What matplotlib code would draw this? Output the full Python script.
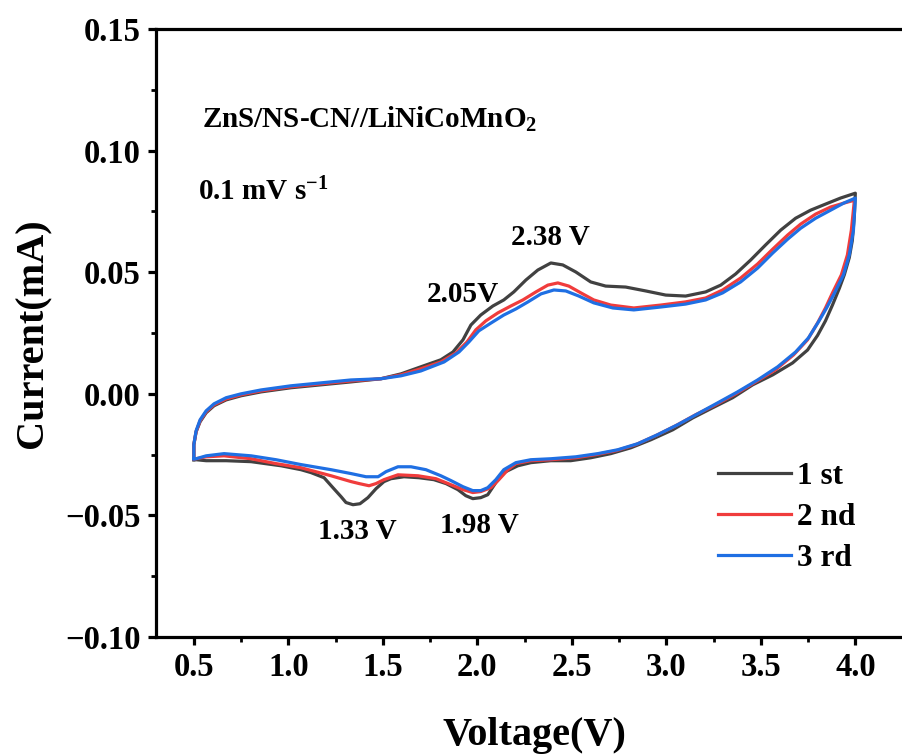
import matplotlib
matplotlib.use('Agg')
import matplotlib.pyplot as plt
from matplotlib.ticker import MultipleLocator, FuncFormatter

plt.rcParams['font.family'] = ['Liberation Serif', 'DejaVu Serif']
plt.rcParams['font.weight'] = 'bold'
plt.rcParams['mathtext.fontset'] = 'custom'
plt.rcParams['mathtext.rm'] = 'Liberation Serif:bold'
plt.rcParams['mathtext.bf'] = 'Liberation Serif:bold'
plt.rcParams['mathtext.it'] = 'Liberation Serif:bold:italic'

# 1st cycle (anodic 0.5 -> 4.0, then cathodic 4.0 -> 0.5)
v1 = [0.500, 0.500, 0.512, 0.533, 0.565, 0.607, 0.671, 0.750, 0.856, 1.014, 1.173, 1.331, 1.490,
      1.596, 1.701, 1.807, 1.871, 1.924, 1.966, 2.018, 2.082, 2.140, 2.193, 2.257, 2.320, 2.389,
      2.452, 2.521, 2.600, 2.679, 2.785, 2.891, 2.997, 3.102, 3.208, 3.288, 3.367, 3.446, 3.525,
      3.605, 3.684, 3.763, 3.842, 3.922, 4.000,
      3.995, 3.984, 3.968, 3.942, 3.916, 3.879, 3.842, 3.800, 3.747, 3.668, 3.563, 3.457, 3.351,
      3.246, 3.140, 3.034, 2.918, 2.812, 2.706, 2.600, 2.494, 2.389, 2.283, 2.214, 2.140, 2.098,
      2.055, 2.018, 1.976, 1.939, 1.897, 1.834, 1.770, 1.691, 1.612, 1.543, 1.506, 1.464, 1.421,
      1.379, 1.342, 1.305, 1.279, 1.236, 1.189, 1.120, 1.067, 0.962, 0.803, 0.671, 0.565, 0.512,
      0.500]
i1 = [-0.0271, -0.0209, -0.0156, -0.0115, -0.0078, -0.0049, -0.0025, -0.0008, 0.0008, 0.0025,
      0.0037, 0.0049, 0.0062, 0.0082, 0.0111, 0.0140, 0.0172, 0.0222, 0.0283, 0.0324, 0.0361,
      0.0386, 0.0419, 0.0468, 0.0509, 0.0538, 0.0530, 0.0501, 0.0460, 0.0443, 0.0439, 0.0423,
      0.0406, 0.0402, 0.0419, 0.0447, 0.0493, 0.0550, 0.0612, 0.0673, 0.0722, 0.0755, 0.0780,
      0.0805, 0.0825,
      0.0735, 0.0630, 0.0560, 0.0490, 0.0435, 0.0365, 0.0300, 0.0240, 0.0180, 0.0127, 0.0078,
      0.0037, -0.0016, -0.0057, -0.0099, -0.0148, -0.0189, -0.0222, -0.0246, -0.0263, -0.0275,
      -0.0275, -0.0283, -0.0296, -0.0324, -0.0365, -0.0415, -0.0427, -0.0431, -0.0419, -0.0394,
      -0.0369, -0.0353, -0.0345, -0.0341, -0.0349, -0.0361, -0.0390, -0.0427, -0.0452, -0.0456,
      -0.0447, -0.0423, -0.0386, -0.0345, -0.0324, -0.0312, -0.0296, -0.0279, -0.0275, -0.0275,
      -0.0271, -0.0271]

# 2nd cycle
v2 = [0.500, 0.500, 0.512, 0.533, 0.565, 0.607, 0.671, 0.750, 0.856, 1.014, 1.173, 1.331, 1.490,
      1.596, 1.701, 1.807, 1.887, 1.945, 1.992, 2.045, 2.109, 2.177, 2.241, 2.310, 2.373, 2.426,
      2.484, 2.548, 2.616, 2.706, 2.828, 2.971, 3.102, 3.208, 3.298, 3.393, 3.483, 3.563, 3.642,
      3.711, 3.790, 3.869, 3.938, 3.995,
      3.979, 3.958, 3.926, 3.879, 3.842, 3.800, 3.747, 3.673, 3.578, 3.473, 3.367, 3.261, 3.155,
      3.050, 2.944, 2.838, 2.733, 2.627, 2.521, 2.389, 2.283, 2.204, 2.162, 2.114, 2.072, 2.018,
      1.976, 1.924, 1.861, 1.781, 1.686, 1.580, 1.506, 1.464, 1.427, 1.374, 1.332, 1.226, 1.067,
      0.935, 0.803, 0.660, 0.565, 0.512, 0.500]
i2 = [-0.0267, -0.0209, -0.0156, -0.0111, -0.0074, -0.0045, -0.0021, -0.0004, 0.0012, 0.0029,
      0.0041, 0.0053, 0.0062, 0.0078, 0.0103, 0.0131, 0.0168, 0.0213, 0.0263, 0.0300, 0.0333,
      0.0361, 0.0386, 0.0419, 0.0447, 0.0456, 0.0443, 0.0415, 0.0386, 0.0365, 0.0353, 0.0365,
      0.0378, 0.0394, 0.0427, 0.0476, 0.0534, 0.0595, 0.0653, 0.0698, 0.0739, 0.0768, 0.0784,
      0.0796,
      0.0673, 0.0571, 0.0489, 0.0415, 0.0353, 0.0291, 0.0222, 0.0160, 0.0099, 0.0049, 0.0000,
      -0.0045, -0.0086, -0.0131, -0.0172, -0.0209, -0.0234, -0.0250, -0.0263, -0.0271, -0.0275,
      -0.0287, -0.0312, -0.0353, -0.0386, -0.0402, -0.0406, -0.0394, -0.0374, -0.0349, -0.0337,
      -0.0333, -0.0353, -0.0369, -0.0378, -0.0369, -0.0361, -0.0337, -0.0304, -0.0287, -0.0267,
      -0.0255, -0.0259, -0.0267, -0.0267]

# 3rd cycle
v3 = [0.500, 0.500, 0.512, 0.533, 0.565, 0.607, 0.671, 0.750, 0.856, 1.014, 1.173, 1.331, 1.490,
      1.596, 1.701, 1.824, 1.903, 1.955, 2.008, 2.072, 2.140, 2.204, 2.268, 2.337, 2.405, 2.468,
      2.537, 2.616, 2.717, 2.828, 2.971, 3.102, 3.208, 3.298, 3.393, 3.483, 3.563, 3.642, 3.711,
      3.790, 3.869, 3.938, 4.000,
      3.990, 3.968, 3.937, 3.890, 3.848, 3.805, 3.752, 3.684, 3.589, 3.483, 3.377, 3.272, 3.166,
      3.060, 2.954, 2.849, 2.743, 2.637, 2.521, 2.389, 2.283, 2.204, 2.140, 2.098, 2.055, 2.018,
      1.976, 1.924, 1.861, 1.807, 1.728, 1.649, 1.580, 1.517, 1.475, 1.411, 1.332, 1.226, 1.067,
      0.935, 0.803, 0.660, 0.565, 0.512, 0.500]
i3 = [-0.0267, -0.0209, -0.0152, -0.0107, -0.0070, -0.0041, -0.0016, 0.0000, 0.0016, 0.0033,
      0.0045, 0.0057, 0.0062, 0.0074, 0.0094, 0.0131, 0.0172, 0.0213, 0.0259, 0.0291, 0.0324,
      0.0349, 0.0378, 0.0411, 0.0427, 0.0423, 0.0402, 0.0374, 0.0353, 0.0345, 0.0357, 0.0369,
      0.0386, 0.0415, 0.0460, 0.0517, 0.0579, 0.0636, 0.0681, 0.0722, 0.0755, 0.0784, 0.0805,
      0.0673, 0.0571, 0.0489, 0.0415, 0.0353, 0.0296, 0.0230, 0.0172, 0.0111, 0.0057, 0.0008,
      -0.0037, -0.0082, -0.0127, -0.0168, -0.0205, -0.0230, -0.0246, -0.0259, -0.0267, -0.0271,
      -0.0283, -0.0312, -0.0353, -0.0386, -0.0398, -0.0398, -0.0382, -0.0357, -0.0337, -0.0312,
      -0.0300, -0.0300, -0.0320, -0.0341, -0.0341, -0.0328, -0.0312, -0.0291, -0.0271, -0.0255,
      -0.0246, -0.0255, -0.0267, -0.0267]

labels = ['1 st', '2 nd', '3 rd']
colors = ['#414141', '#f03c3c', '#1f6fe3']

peak_text = ['2.38 V', '2.05V', '1.33 V', '1.98 V']
peak_pos = [(2.389, 0.0612), (1.926, 0.0378), (1.366, -0.0599), (2.011, -0.0571)]

fig = plt.figure(figsize=(9.03, 7.56), dpi=100)
ax = fig.add_axes([0.1728, 0.1574, 0.8372, 0.8042])

for v, cur, lab, c in zip([v1, v2, v3], [i1, i2, i3], labels, colors):
    ax.plot(v, cur, color=c, lw=2.3, label=lab, solid_joinstyle='round')

ax.set_xlim(0.3, 4.3)
ax.set_ylim(-0.10, 0.15)
ax.set_xticks([0.5, 1.0, 1.5, 2.0, 2.5, 3.0, 3.5, 4.0])
ax.set_yticks([-0.10, -0.05, 0.00, 0.05, 0.10, 0.15])
ax.xaxis.set_minor_locator(MultipleLocator(0.25))
ax.yaxis.set_minor_locator(MultipleLocator(0.025))
ax.xaxis.set_major_formatter(FuncFormatter(lambda v, p: '%.1f' % v))
ax.yaxis.set_major_formatter(FuncFormatter(lambda v, p: ('%.2f' % v).replace('-', '\u2212')))

for s in ['left', 'bottom', 'top']:
    ax.spines[s].set_linewidth(2.3)
ax.spines['right'].set_visible(False)
ax.tick_params(which='major', direction='out', length=6, width=2.3)
ax.tick_params(which='minor', direction='out', length=3.5, width=2)
ax.tick_params(axis='x', labelsize=23.5, pad=5)
ax.tick_params(axis='y', labelsize=23.5, pad=5)

ax.set_xlabel('Voltage(V)', fontsize=29, fontweight='bold', labelpad=24)
ax.set_ylabel('Current(mA)', fontsize=29, fontweight='bold', labelpad=10)

ax.text(0.544, 0.1092, r'ZnS/NS-CN//LiNiCoMnO$_{2}$', fontsize=21, fontweight='bold',
        ha='left', va='baseline')
ax.text(0.523, 0.0796, r'0.1 mV s$^{\mathrm{-1}}$', fontsize=21, fontweight='bold',
        ha='left', va='baseline')
for t, (x, y) in zip(peak_text, peak_pos):
    ax.text(x, y, t, fontsize=21, fontweight='bold', ha='center', va='baseline')

ax.legend(loc='upper left', bbox_to_anchor=(0.781, 0.405), bbox_transform=fig.transFigure,
          frameon=False, fontsize=22.5, handlelength=2.33, handletextpad=0.22,
          labelspacing=0.38, borderaxespad=0)

plt.savefig('out.png', dpi=100)
